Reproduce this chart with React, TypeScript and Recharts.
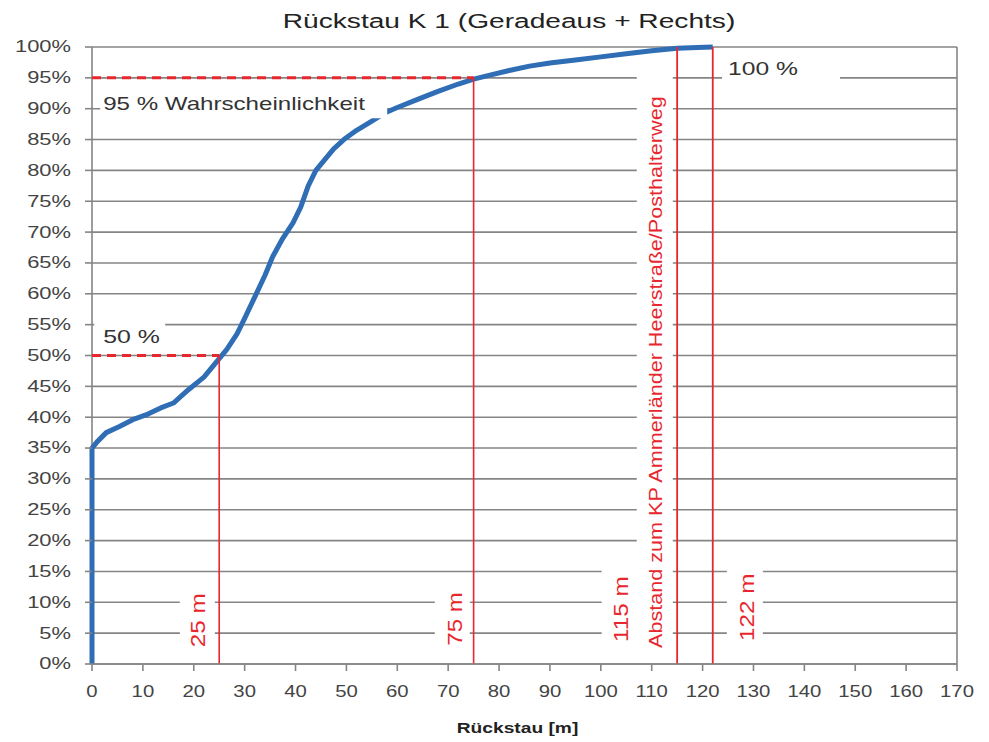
import { LineChart, Line, XAxis, YAxis, CartesianGrid, ReferenceLine, ReferenceDot } from "recharts"

// Rückstau (m) vs. cumulative probability (%)
const distance = [0, 0, 1, 2.8, 5.4, 8, 11, 13.5, 16, 19, 22, 25, 26.5, 28.5, 30, 32, 34, 35.5, 37.5, 39.5, 41, 42.5, 44, 45.5, 47.5, 49.5, 52, 55, 57.5, 60, 64, 68, 72, 75, 78, 82, 86, 90, 95, 100, 105, 110, 115, 119, 122]
const share = [0, 35, 36, 37.5, 38.5, 39.6, 40.5, 41.5, 42.3, 44.5, 46.5, 49.5, 51, 53.5, 56, 59.5, 63, 66, 69, 71.5, 74, 77.5, 80, 81.5, 83.5, 85, 86.5, 88, 89.3, 90.2, 91.5, 92.8, 94, 94.8, 95.4, 96.2, 96.9, 97.4, 97.9, 98.4, 98.9, 99.4, 99.8, 99.9, 100]

const xTicks = [0, 10, 20, 30, 40, 50, 60, 70, 80, 90, 100, 110, 120, 130, 140, 150, 160, 170]
const yTicks = [0, 5, 10, 15, 20, 25, 30, 35, 40, 45, 50, 55, 60, 65, 70, 75, 80, 85, 90, 95, 100]

const data = distance.map((d, i) => ({ d, p: share[i] }))

const FONT = "'Liberation Sans', Arial, sans-serif"
const GRID = "#858585"
const RED = "#e8262e"
const BLUE = "#2f6db5"

function Txt({ x, y, text, size, sx = 1.35, rotate = 0, anchor = "middle", fill = "#333", weight = "normal" }: any) {
  return (
    <text
      transform={`translate(${x},${y}) rotate(${rotate}) scale(${sx},1)`}
      textAnchor={anchor}
      dominantBaseline="central"
      fontFamily={FONT}
      fontSize={size}
      fill={fill}
      fontWeight={weight}
    >
      {text}
    </text>
  )
}

// white box (covers grid) + text, placed at a data point
function boxLabel(text: string, box: [number, number, number, number], opts: any) {
  return (p: any) => {
    const { cx, cy } = p
    return (
      <g>
        <rect x={cx + box[0]} y={cy + box[1]} width={box[2]} height={box[3]} fill="#fff" />
        <Txt x={cx} y={cy} text={text} {...opts} />
      </g>
    )
  }
}

const XTick = ({ x, y, payload }: any) => <Txt x={x} y={y} text={payload.value} size={16} sx={1.27} fill="#444" />
const YTick = ({ x, y, payload }: any) => <Txt x={x} y={y} text={`${payload.value}%`} size={16} sx={1.37} anchor="end" fill="#444" />

export default function App() {
  return (
    <div style={{ position: "absolute", left: 0, top: 0, width: 989, height: 742, background: "#fff" }}>
      <LineChart width={989} height={742} data={data} margin={{ top: 47, right: 32, bottom: 48, left: 0 }}>
        <CartesianGrid vertical={false} stroke={GRID} strokeWidth={1.6} />
        <XAxis
          dataKey="d"
          type="number"
          domain={[0, 170]}
          ticks={xTicks}
          interval={0}
          height={30}
          tickSize={7}
          tickMargin={20}
          stroke={GRID}
          strokeWidth={1.6}
          tick={<XTick />}
          label={{
            content: (props: any) => {
              const vb = props.viewBox
              return <Txt x={vb.x + vb.width / 2 - 7} y={728} text="Rückstau [m]" size={15} sx={1.28} weight="bold" fill="#222" />
            },
          }}
        />
        <YAxis
          type="number"
          domain={[0, 100]}
          ticks={yTicks}
          interval={0}
          width={92}
          tickSize={7}
          tickMargin={14}
          stroke={GRID}
          strokeWidth={1.6}
          axisLine={false}
          tickLine={{ stroke: GRID, strokeWidth: 1.6 }}
          tick={<YTick />}
        />
        <ReferenceLine x={0} stroke={GRID} strokeWidth={1.6} />
        <ReferenceLine x={170} stroke={GRID} strokeWidth={1.6} />
        <Line dataKey="p" stroke={BLUE} strokeWidth={5} dot={false} isAnimationActive={false} strokeLinejoin="round" />

        <ReferenceLine segment={[{ x: 0, y: 95 }, { x: 75, y: 95 }]} stroke={RED} strokeWidth={3} strokeDasharray="9 6" />
        <ReferenceLine segment={[{ x: 0, y: 50 }, { x: 25, y: 50 }]} stroke={RED} strokeWidth={3} strokeDasharray="9 6" />
        <ReferenceLine segment={[{ x: 25, y: 0 }, { x: 25, y: 50 }]} stroke={RED} strokeWidth={1.6} />
        <ReferenceLine segment={[{ x: 75, y: 0 }, { x: 75, y: 95 }]} stroke={RED} strokeWidth={1.6} />
        <ReferenceLine segment={[{ x: 115, y: 0 }, { x: 115, y: 100 }]} stroke={RED} strokeWidth={1.8} />
        <ReferenceLine segment={[{ x: 122, y: 0 }, { x: 122, y: 100 }]} stroke={RED} strokeWidth={1.8} />

        <ReferenceDot x={2.2} y={90.8} r={0} shape={boxLabel("95 % Wahrscheinlichkeit", [-3, -15.5, 287, 30], { size: 18, sx: 1.34, anchor: "start", fill: "#333" })} />
        <ReferenceDot x={2.2} y={53.1} r={0} shape={boxLabel("50 %", [-9, -18, 71, 31], { size: 18, sx: 1.38, anchor: "start", fill: "#333" })} />
        <ReferenceDot x={125} y={96.4} r={0} shape={boxLabel("100 %", [-6, -15, 118, 33], { size: 18, sx: 1.37, anchor: "start", fill: "#333" })} />
        <ReferenceDot x={20.8} y={7.1} r={0} shape={boxLabel("25 m", [-18, -40, 35, 75], { size: 20, sx: 1.22, rotate: -90, fill: RED })} />
        <ReferenceDot x={71.3} y={7.3} r={0} shape={boxLabel("75 m", [-20, -40, 35, 75], { size: 20, sx: 1.2, rotate: -90, fill: RED })} />
        <ReferenceDot x={104.1} y={8.9} r={0} shape={boxLabel("115 m", [-20, -49, 36, 96], { size: 20, sx: 1.22, rotate: -90, fill: RED })} />
        <ReferenceDot
          x={110.8}
          y={47.3}
          r={0}
          shape={boxLabel("Abstand zum KP Ammerländer Heerstraße/Posthalterweg", [-19, -302, 36, 585], { size: 18, sx: 1.2, rotate: -90, fill: RED })}
        />
        <ReferenceDot x={128.7} y={9.2} r={0} shape={boxLabel("122 m", [-20, -48, 36, 95], { size: 20, sx: 1.22, rotate: -90, fill: RED })} />
      </LineChart>
      <svg width={989} height={40} style={{ position: "absolute", left: 0, top: 0, pointerEvents: "none" }}>
        <Txt x={509} y={21} text="Rückstau K 1 (Geradeaus + Rechts)" size={21} sx={1.34} fill="#222" />
      </svg>
    </div>
  )
}
